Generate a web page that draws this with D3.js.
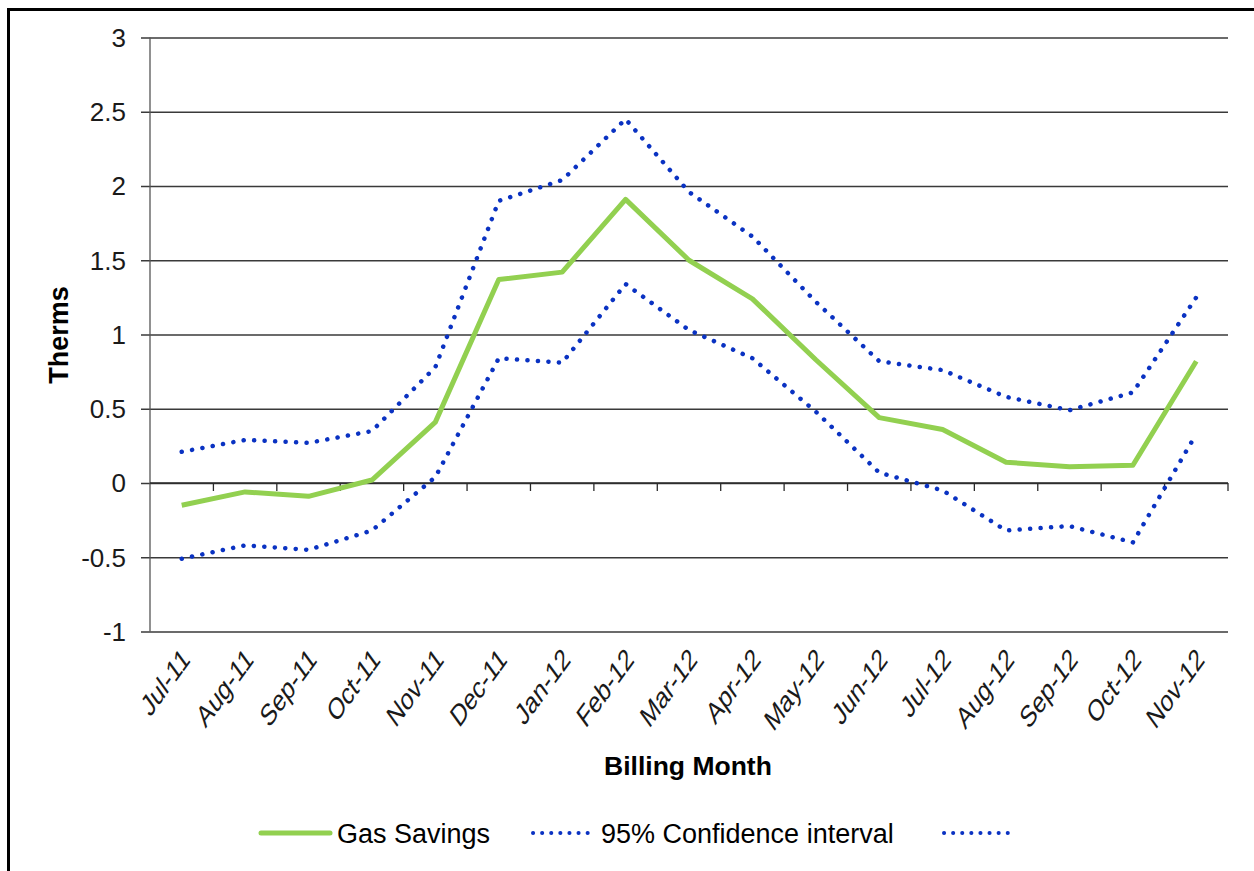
<!DOCTYPE html>
<html>
<head>
<meta charset="utf-8">
<script src="https://cdn.jsdelivr.net/npm/d3@7/dist/d3.min.js"></script>
<style>
  body { margin: 0; background: #fff; }
  svg { display: block; font-family: "Liberation Sans", Arial, sans-serif; }
  .grid line { stroke: #3a3a3a; stroke-width: 1.3; }
  .grid path { display: none; }
</style>
</head>
<body>
<svg id="chart" width="1254" height="871"></svg>
<script>
const months = ['Jul-11', 'Aug-11', 'Sep-11', 'Oct-11', 'Nov-11', 'Dec-11', 'Jan-12', 'Feb-12',
                'Mar-12', 'Apr-12', 'May-12', 'Jun-12', 'Jul-12', 'Aug-12', 'Sep-12', 'Oct-12', 'Nov-12'];
const gasSavings = [-0.15, -0.06, -0.09, 0.02, 0.41, 1.37, 1.42, 1.91, 1.50, 1.24, 0.83, 0.44, 0.36, 0.14, 0.11, 0.12, 0.82];
const upperCI = [0.21, 0.29, 0.27, 0.35, 0.78, 1.90, 2.04, 2.45, 1.96, 1.66, 1.22, 0.82, 0.76, 0.58, 0.49, 0.61, 1.25];
const lowerCI = [-0.51, -0.42, -0.45, -0.32, 0.04, 0.84, 0.81, 1.34, 1.03, 0.84, 0.48, 0.07, -0.05, -0.32, -0.29, -0.40, 0.33];
const yTicks = [-1, -0.5, 0, 0.5, 1, 1.5, 2, 2.5, 3];

const GREEN = '#92d050';
const BLUE = '#0a32c2';

let svg = d3.select('#chart'),
    margin = {top: 37.5, right: 26, bottom: 239.5, left: 150},
    width = 1254 - margin.left - margin.right,
    height = 871 - margin.top - margin.bottom;

// outer frame (runs off the right and bottom edges)
svg.append('rect')
  .attr('x', 8.5).attr('y', 9.5)
  .attr('width', 1400).attr('height', 1000)
  .attr('fill', 'none').attr('stroke', '#000').attr('stroke-width', 3);

let g = svg.append('g')
  .attr('transform', 'translate(' + margin.left + ',' + margin.top + ')');

let x = d3.scaleBand().domain(months).range([0, width]);
let y = d3.scaleLinear().domain([-1, 3]).range([height, 0]);
let cx = (d, i) => x(months[i]) + x.bandwidth() / 2;

// horizontal gridlines with short tick stubs on the left
g.append('g')
  .attr('class', 'grid')
  .call(d3.axisLeft(y).tickValues(yTicks).tickSize(-width).tickFormat(''))
  .selectAll('.tick line').attr('x1', -9);

// y labels (plain hyphen for negatives, like the original)
g.append('g')
  .selectAll('text')
  .data(yTicks)
  .enter()
  .append('text')
  .attr('x', -24)
  .attr('y', (d) => y(d))
  .attr('dy', '0.36em')
  .attr('text-anchor', 'end')
  .attr('font-size', 26)
  .attr('fill', '#1a1a1a')
  .text((d) => String(d));

// vertical axis line
g.append('line')
  .attr('x1', 0).attr('x2', 0)
  .attr('y1', 0).attr('y2', height)
  .attr('stroke', '#555').attr('stroke-width', 1.3);

// zero line with category boundary ticks
let boundaries = months.map((m) => x(m) + x.bandwidth());
g.append('line')
  .attr('x1', 0).attr('x2', width)
  .attr('y1', y(0)).attr('y2', y(0))
  .attr('stroke', '#2a2a2a').attr('stroke-width', 1.3);
g.append('g')
  .selectAll('line')
  .data(boundaries)
  .enter()
  .append('line')
  .attr('x1', (d) => d).attr('x2', (d) => d)
  .attr('y1', y(0)).attr('y2', y(0) + 8)
  .attr('stroke', '#2a2a2a').attr('stroke-width', 1.3);

// month labels: 45deg text, stretched vertically as in the source image
g.append('g')
  .selectAll('text')
  .data(months)
  .enter()
  .append('text')
  .attr('transform', (d, i) => 'translate(' + (cx(d, i) + 4) + ',' + (height + 22) + ') scale(1,1.38) rotate(-45)')
  .attr('text-anchor', 'end')
  .attr('dy', '0.35em')
  .attr('font-size', 22)
  .attr('fill', '#1a1a1a')
  .text((d) => d);

let line = d3.line()
  .x(cx)
  .y((d) => y(d));

g.append('path')
  .datum(upperCI)
  .attr('d', line)
  .attr('fill', 'none')
  .attr('stroke', BLUE)
  .attr('stroke-width', 4.5)
  .attr('stroke-linecap', 'round')
  .attr('stroke-dasharray', '0.1 10.4');

g.append('path')
  .datum(lowerCI)
  .attr('d', line)
  .attr('fill', 'none')
  .attr('stroke', BLUE)
  .attr('stroke-width', 4.5)
  .attr('stroke-linecap', 'round')
  .attr('stroke-dasharray', '0.1 10.4');

g.append('path')
  .datum(gasSavings)
  .attr('d', line)
  .attr('fill', 'none')
  .attr('stroke', GREEN)
  .attr('stroke-width', 5)
  .attr('stroke-linejoin', 'round');

// axis titles
svg.append('text')
  .attr('transform', 'translate(68,335) rotate(-90)')
  .attr('text-anchor', 'middle')
  .attr('font-size', 27)
  .attr('font-weight', 'bold')
  .text('Therms');

svg.append('text')
  .attr('x', 688)
  .attr('y', 775)
  .attr('text-anchor', 'middle')
  .attr('font-size', 26.5)
  .attr('font-weight', 'bold')
  .text('Billing Month');

// legend
let legendItems = [
  {label: 'Gas Savings', color: GREEN, dash: null, width: 5, x0: 261, x1: 330},
  {label: '95% Confidence interval', color: BLUE, dash: '0.1 9', width: 4, x0: 533, x1: 594},
  {label: '', color: BLUE, dash: '0.1 9', width: 4, x0: 944, x1: 1008}
];
let legend = svg.append('g');
legendItems.forEach((d) => {
  legend.append('line')
    .attr('x1', d.x0).attr('x2', d.x1)
    .attr('y1', 833).attr('y2', 833)
    .attr('stroke', d.color)
    .attr('stroke-width', d.width)
    .attr('stroke-linecap', 'round')
    .attr('stroke-dasharray', d.dash);
  legend.append('text')
    .attr('x', d.x1 + 7)
    .attr('y', 833)
    .attr('dy', '0.36em')
    .attr('font-size', 27)
    .text(d.label);
});
</script>
</body>
</html>
